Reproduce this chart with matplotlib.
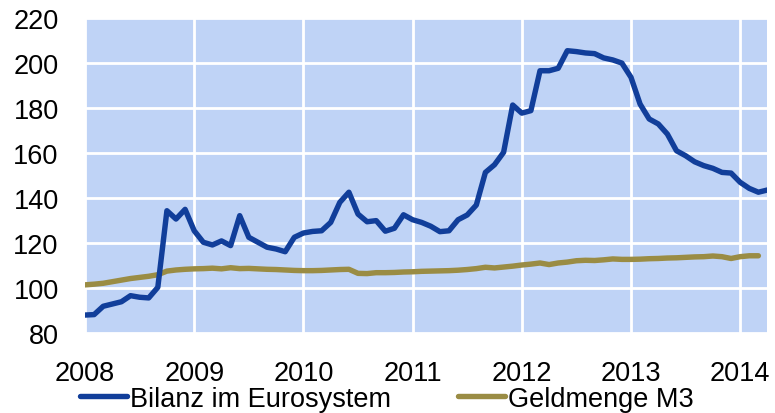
import matplotlib
matplotlib.use("Agg")
import matplotlib.pyplot as plt
import numpy as np

plt.rcParams['font.family'] = ['Liberation Sans', 'DejaVu Sans']

years = [2008, 2009, 2010, 2011, 2012, 2013, 2014]
yticks = [80, 100, 120, 140, 160, 180, 200, 220]

# Monthly values, Jan 2008 onwards
bilanz = [88.1, 88.3, 92.0, 93.0, 94.0, 96.7, 96.0, 95.7, 100.4, 134.4, 130.7, 135.0,
          125.5, 120.4, 119.2, 121.0, 118.9, 132.2, 122.6, 120.4, 118.2, 117.4, 116.2, 122.6,
          124.5, 125.2, 125.5, 129.2, 138.1, 142.6, 132.9, 129.5, 130.0, 125.3, 126.6, 132.6,
          130.4, 129.2, 127.5, 125.1, 125.5, 130.4, 132.5, 136.9, 151.4, 154.8, 160.3, 181.3,
          177.7, 178.8, 196.5, 196.5, 197.6, 205.4, 205.0, 204.4, 204.1, 202.2, 201.3, 199.9,
          193.6, 181.7, 175.1, 172.9, 168.4, 161.0, 158.8, 156.1, 154.4, 153.2, 151.4, 151.1,
          147.0, 144.3, 142.6, 143.6]

m3 = [101.5, 101.8, 102.2, 102.9, 103.6, 104.3, 104.8, 105.3, 106.0, 107.6, 108.1, 108.4,
      108.6, 108.7, 108.9, 108.6, 109.1, 108.7, 108.8, 108.6, 108.4, 108.3, 108.1, 107.9,
      107.8, 107.8, 107.9, 108.1, 108.3, 108.4, 106.6, 106.5, 106.9, 106.9, 107.0, 107.2,
      107.3, 107.5, 107.6, 107.7, 107.8, 108.0, 108.3, 108.7, 109.3, 109.0, 109.4, 109.8,
      110.3, 110.7, 111.2, 110.5, 111.2, 111.6, 112.2, 112.4, 112.3, 112.6, 113.0, 112.8,
      112.8, 112.9, 113.1, 113.2, 113.4, 113.5, 113.7, 113.9, 114.0, 114.3, 114.0, 113.2,
      114.0, 114.4, 114.4]

labels = ["Bilanz im Eurosystem", "Geldmenge M3"]

x_b = 2008 + np.arange(len(bilanz)) / 12.0
x_m = 2008 + np.arange(len(m3)) / 12.0

fig = plt.figure(figsize=(7.75, 4.14), dpi=100)
ax = fig.add_axes([0.1097, 0.1925, 0.8806, 0.7621])
ax.set_facecolor('#bfd3f6')
for s in ax.spines.values():
    s.set_visible(False)

ax.plot(x_b, bilanz, color='#113e9a', lw=3.9, solid_joinstyle='round', solid_capstyle='round', label=labels[0], zorder=3)
ax.plot(x_m, m3, color='#9a8c44', lw=3.9, solid_joinstyle='round', solid_capstyle='round', label=labels[1], zorder=2)

ax.set_xlim(2008, x_b[-1])
ax.set_ylim(80, 220)
ax.set_xticks(years)
ax.set_yticks(yticks)
ax.grid(True, color='white', lw=2.0)
ax.set_axisbelow(True)
ax.tick_params(length=0, labelsize=19.5)
ax.tick_params(axis='y', pad=19)
ax.tick_params(axis='x', pad=19)

leg = fig.legend(loc='center left', bbox_to_anchor=(0.103, 0.034), ncol=2, frameon=False,
                 fontsize=19.5, handlelength=1.75, handletextpad=0.12, columnspacing=2.45,
                 borderaxespad=0, borderpad=0)

fig.savefig('out.png', dpi=100)
